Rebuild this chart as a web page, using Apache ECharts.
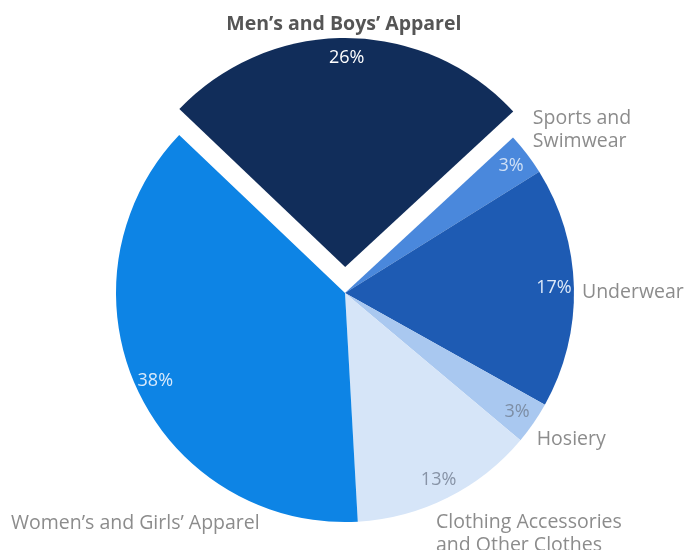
<!DOCTYPE html>
<html>
<head>
<meta charset="utf-8">
<script src="https://cdn.jsdelivr.net/npm/echarts@6/dist/echarts.min.js"></script>
<style>
  html, body { margin: 0; padding: 0; background: #ffffff; }
  #chart { width: 687px; height: 550px; }
</style>
</head>
<body>
<div id="chart"></div>
<script>
// Apparel market share by segment (percent)
const categories = [
  "Men\u2019s and Boys\u2019 Apparel",
  "Sports and\nSwimwear",
  "Underwear",
  "Hosiery",
  "Clothing Accessories\nand Other Clothes",
  "Women\u2019s and Girls\u2019 Apparel"
];
const shares = [26, 3, 17, 3, 13, 38];

// Slice styling
const sliceColors = ["#112d5a", "#4a88dc", "#1e5bb3", "#a9c8f0", "#d6e5f8", "#0d84e5"];
const pctColors = ["#ffffff", "#cfe0f6", "#dde9f8", "#7d8ea5", "#8793a6", "#d8e9fb"];
// Nudges for the category name labels [dx, dy, align]
const nameNudge = [
  [-8, -4, "center"],
  [-7, -18, "left"],
  [-7, 5, "left"],
  [-10, 11, "left"],
  [-21, 27, "left"],
  [-112, 130, "left"]
];

const CENTER = [345, 293];
const R = 229;
const START = 136.4;
const EXPLODE = 26;

function items(withStyle) {
  return categories.map((name, i) => ({
    name: name,
    value: shares[i],
    selected: i === 0,
    itemStyle: withStyle ? { color: sliceColors[i] } : { color: "rgba(0,0,0,0)" }
  }));
}

const chart = echarts.init(document.getElementById("chart"), null, { renderer: "canvas" });

chart.setOption({
  animation: false,
  backgroundColor: "#ffffff",
  series: [
    {
      // slices and category names
      type: "pie",
      center: CENTER,
      radius: [0, R],
      startAngle: START,
      clockwise: true,
      selectedMode: "single",
      selectedOffset: EXPLODE,
      silent: true,
      data: items(true).map((d, i) => i === 0
        ? Object.assign(d, { label: { fontWeight: "bold", color: "#555555" } })
        : d),
      itemStyle: { borderWidth: 0 },
      emphasis: { disabled: true },
      label: {
        show: true,
        position: "outside",
        formatter: "{b}",
        fontFamily: "Open Sans",
        fontSize: 19.5,
        lineHeight: 23,
        color: "#8c8c8c",
        overflow: "none"
      },
      labelLine: { show: false, length: 10, length2: 0 },
      avoidLabelOverlap: false,
      labelLayout: function (p) {
        const n = nameNudge[p.dataIndex];
        return { dx: n[0], dy: n[1], align: n[2], verticalAlign: "middle" };
      }
    },
    {
      // percentage labels near the rim
      type: "pie",
      center: CENTER,
      radius: [183, R],
      startAngle: START,
      clockwise: true,
      selectedMode: "single",
      selectedOffset: EXPLODE,
      silent: true,
      z: 3,
      data: items(false).map((d, i) => Object.assign(d, {
        label: { color: pctColors[i] }
      })),
      emphasis: { disabled: true },
      label: {
        show: true,
        position: "inside",
        formatter: "{c}%",
        fontFamily: "Open Sans",
        fontSize: 18
      },
      labelLine: { show: false }
    }
  ]
});
</script>
</body>
</html>
